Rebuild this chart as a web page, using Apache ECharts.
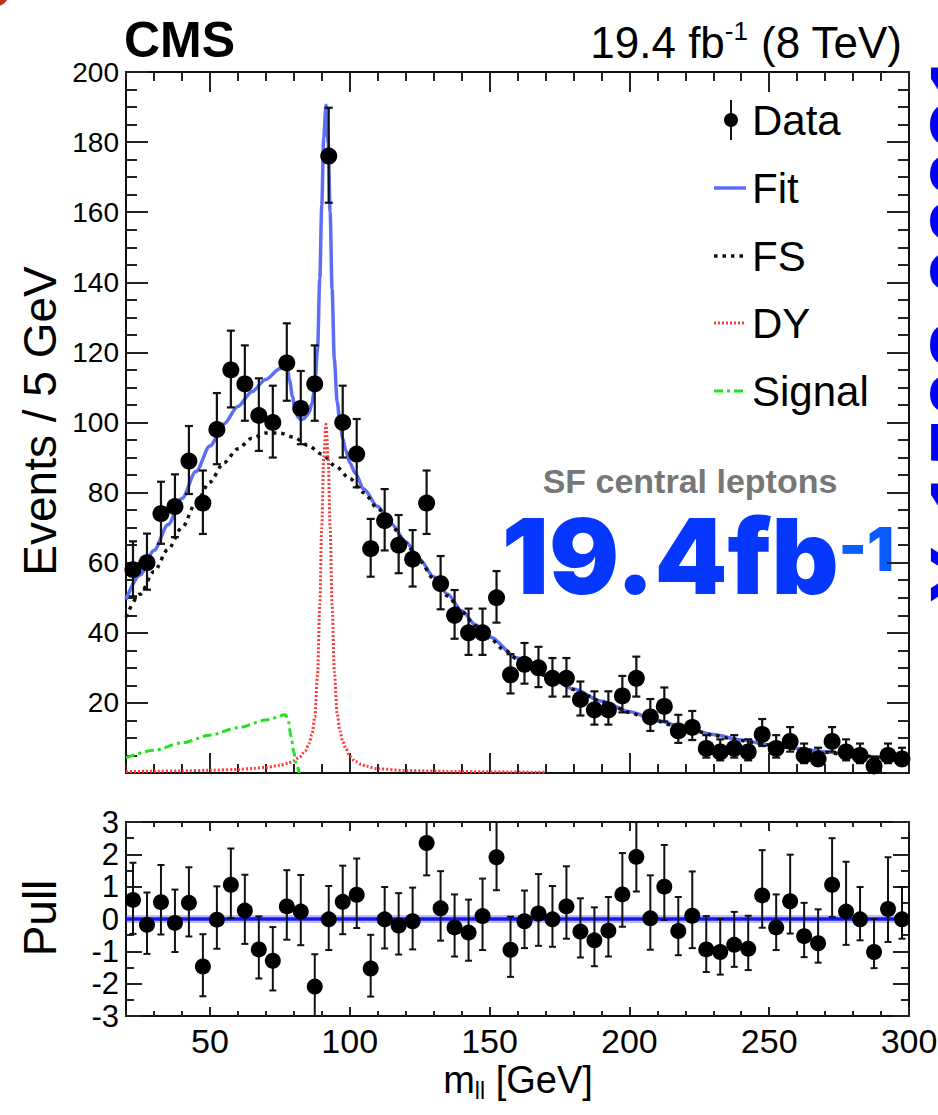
<!DOCTYPE html>
<html>
<head>
<meta charset="utf-8">
<script src="https://cdn.jsdelivr.net/npm/echarts@6/dist/echarts.min.js"></script>
<style>
  html, body { margin: 0; padding: 0; background: #fff; }
  #chart { width: 938px; height: 1115px; }
</style>
</head>
<body>
<div id="chart"></div>
<script>
// Dilepton invariant mass, same-flavour central leptons, 5 GeV bins
const massCenters = [22.5,27.5,32.5,37.5,42.5,47.5,52.5,57.5,62.5,67.5,72.5,77.5,82.5,87.5,92.5,97.5,102.5,107.5,112.5,117.5,122.5,127.5,132.5,137.5,142.5,147.5,152.5,157.5,162.5,167.5,172.5,177.5,182.5,187.5,192.5,197.5,202.5,207.5,212.5,217.5,222.5,227.5,232.5,237.5,242.5,247.5,252.5,257.5,262.5,267.5,272.5,277.5,282.5,287.5,292.5,297.5];
const events = [58,60,74,76,89,77,98,115,111,102,100,117,104,111,176,100,91,64,72,65,61,77,54,45,40,40,50,28,31,30,27,27,21,18,18,22,27,16,19,12,13,7,6,7,6,11,7,9,5,4,9,6,5,2,5,4];
const eventsErrLow = [7.6,7.7,8.6,8.7,9.4,8.8,9.9,10.7,10.5,10.1,10.0,10.8,10.2,10.5,13.3,10.0,9.5,8.0,8.5,8.0,7.8,8.8,7.3,6.7,6.3,6.3,7.1,5.3,5.5,5.5,5.2,5.2,4.6,4.2,4.2,4.7,5.2,4.0,4.3,3.4,3.6,2.6,2.4,2.6,2.4,3.3,2.6,2.9,2.2,1.9,2.9,2.4,2.2,1.3,2.2,1.9];
const eventsErrHigh = [8.1,8.3,9.1,9.2,10.0,9.3,10.4,11.2,11.0,10.6,10.5,11.3,10.7,11.0,13.8,10.5,10.0,8.5,9.0,8.6,8.3,9.3,7.9,7.2,6.9,6.9,7.6,5.9,6.1,6.0,5.8,5.8,5.1,5.3,5.3,5.7,6.2,5.1,5.4,4.6,4.7,3.8,3.6,3.8,3.6,4.4,3.8,4.1,3.4,3.2,4.1,3.6,3.4,2.6,3.4,3.2];

// Pull of data with respect to the fit, per bin
const pullValues = [0.59,-0.18,0.52,-0.12,0.5,-1.47,-0.02,1.06,0.26,-0.94,-1.29,0.39,0.23,-2.09,-0.01,0.53,0.75,-1.53,-0.01,-0.2,-0.07,2.35,0.33,-0.26,-0.42,0.09,1.91,-0.95,-0.07,0.17,-0.01,0.39,-0.39,-0.66,-0.36,0.76,1.92,0.02,1.0,-0.37,0.1,-0.94,-1.02,-0.8,-0.92,0.73,-0.26,0.55,-0.53,-0.75,1.06,0.23,-0.01,-1.02,0.31,-0.01];
const pullErrLow = [1.05,0.9,1.0,0.9,1.04,0.92,0.9,1.03,1.03,0.9,0.92,1.03,1.04,0.92,0.95,1.0,1.03,0.87,0.9,0.9,0.87,1.0,1.0,0.9,0.87,1.05,1.02,0.84,0.83,1.0,0.85,1.0,0.8,0.8,0.8,1.0,1.07,0.97,1.03,0.75,1.0,0.7,0.7,0.68,0.66,1.0,0.7,1.0,0.65,0.6,1.0,1.03,0.65,0.5,1.02,0.6];
const pullErrHigh = [1.15,1.0,1.15,1.03,1.1,1.0,1.03,1.12,1.11,1.02,1.04,1.12,1.13,1.0,1.03,1.12,1.12,1.04,1.0,1.0,1.04,1.0,1.15,1.02,1.02,1.16,1.1,1.02,0.95,1.22,1.03,1.24,1.03,1.02,1.04,1.28,1.1,1.33,1.29,1.05,1.37,1.03,1.02,1.02,1.02,1.4,1.02,1.44,1.03,1.05,1.44,1.54,1.0,1.02,1.6,1.0];

// Fit model and its components, sampled along m_ll
const fitMass = [20,25,30,35,40,45,50,55,60,65,70,75,77.5,78.5,79.5,80.5,81.5,82.5,83.5,84.5,85.5,86.5,87.5,88.5,89.3,90,90.7,91.5,92.3,93,93.7,94.5,95.5,96.5,97.5,98.6,100,102,105,110,115,120,125,130,135,140,145,150,160,170,180,190,200,210,220,230,240,250,260,270,280,290,300];
const fitValue = [49.5,56.5,63.5,70.8,78.3,86,93.3,99.6,104.6,108.8,112.3,115.3,116.5,112,107.5,103.5,101.5,100.8,101,101.8,103,105.5,110,121,141,162,181,190.5,180,160,138,118,106,100,95.5,92,88.6,85.5,81,76,71,66,61,56,51,46.3,42.3,38.8,32.8,28,24,20.5,17.5,15,12.9,11,9.4,8.1,7,6,5.2,4.5,3.9];
const fsMass = [20,25,30,35,40,45,50,55,60,65,70,75,80,85,90,95,100,105,110,115,120,125,130,135,140,145,150,155,160,165,170,175,180,185,190,195,200,205,210,215,220,225,230,235,240,245,250,255,260,265,270,275,280,285,290,295,300];
const fsValue = [44.5,51,57.5,63.8,70,77,83,88.5,92.5,95.5,97,97,95.8,93.5,91,87.5,84,80,75.5,70.5,65.5,60.5,55.5,50.5,46,42,38.5,35.3,32.5,30,27.8,25.8,23.8,22,20.3,18.7,17.3,16,14.8,13.7,12.7,11.7,10.8,10,9.3,8.6,8,7.4,6.9,6.4,5.9,5.5,5.1,4.7,4.4,4.1,3.8];
const dyMass = [20,30,40,50,60,65,70,75,78,80,82,84,85.5,86.5,87.5,88.5,89.3,90,90.7,91.5,92.3,93,93.7,94.5,95.5,96.5,97.5,98.6,100,102,104,106,110,120,140,170];
const dyValue = [0.4,0.5,0.6,0.8,1.0,1.3,1.6,2.2,2.8,3.5,4.5,6.2,8.5,11,16,28,48,70,90,99.5,90,70,48,29,17,12,9,7,4.8,3.3,2.5,1.9,1.2,0.7,0.4,0.2];
const sigMass = [20,30,40,50,60,70,77,78,79,80,81,82];
const sigValue = [4.3,6.5,8.6,10.8,12.9,15.1,16.6,15,10.5,6,2.2,0];

// Axis ticks and labels
const xMajorTicks = [50,100,150,200,250,300];
const xMinorTicks = [20,30,40,50,60,70,80,90,100,110,120,130,140,150,160,170,180,190,200,210,220,230,240,250,260,270,280,290,300];

const FONT = "'Liberation Sans', Arial, Helvetica, sans-serif";
const HEAVY = "Inter, Lato, 'DejaVu Sans', sans-serif";
const INK = '#111';

const styles = {
  fit:    { color: '#5d6ef6', width: 3.5, type: 'solid' },
  fs:     { color: '#111111', width: 3.5, type: [3.5, 5] },
  dy:     { color: '#ff3a3a', width: 3,   type: [2, 2] },
  signal: { color: '#22e022', width: 3,   type: [9, 4, 3, 4] }
};

const pairs = (xs, ys) => xs.map((x, i) => [x, ys[i]]);
const barRows = (xs, ys, lo, hi) => xs.map((x, i) => [x, ys[i] - lo[i], ys[i] + hi[i]]);

function errorBar(capHalf, width) {
  return function (params, api) {
    const x = api.value(0);
    const top = api.coord([x, api.value(2)]);
    const bot = api.coord([x, api.value(1)]);
    const st = { stroke: INK, lineWidth: width };
    return {
      type: 'group',
      children: [
        { type: 'line', shape: { x1: top[0], y1: top[1], x2: bot[0], y2: bot[1] }, style: st },
        { type: 'line', shape: { x1: top[0] - capHalf, y1: top[1], x2: top[0] + capHalf, y2: top[1] }, style: st },
        { type: 'line', shape: { x1: bot[0] - capHalf, y1: bot[1], x2: bot[0] + capHalf, y2: bot[1] }, style: st }
      ]
    };
  };
}

function massAxes(gridIndex, majorLen, minorLen, withLabels) {
  const tickStyle = { color: '#222', width: 2 };
  const make = (position, major) => ({
    type: 'value', gridIndex, position, min: 20, max: 300,
    axisLine: { show: major, onZero: false, lineStyle: { color: INK, width: 2 } },
    axisTick: { show: true, inside: true, length: major ? majorLen : minorLen,
                customValues: major ? xMajorTicks : xMinorTicks, lineStyle: tickStyle },
    axisLabel: { show: major && withLabels && position === 'bottom', customValues: xMajorTicks,
                 showMinLabel: true, showMaxLabel: true,
                 fontFamily: FONT, fontSize: 34, color: '#000', margin: 8 },
    splitLine: { show: false }
  });
  return [make('bottom', true), make('bottom', false), make('top', true), make('top', false)];
}

function valueAxes(gridIndex, cfg) {
  const tickStyle = { color: '#222', width: 2 };
  const make = (position, labels) => ({
    type: 'value', gridIndex, position, min: cfg.min, max: cfg.max, interval: cfg.interval,
    axisLine: { show: true, onZero: false, lineStyle: { color: INK, width: 2 } },
    axisTick: { show: true, inside: true, length: cfg.majorLen, lineStyle: tickStyle },
    minorTick: { show: true, splitNumber: cfg.minorSplit, length: cfg.minorLen, lineStyle: tickStyle },
    axisLabel: { show: labels, fontFamily: FONT, fontSize: cfg.fontSize, lineHeight: cfg.fontSize,
                 color: '#000', margin: 7, showMinLabel: true, showMaxLabel: true,
                 hideOverlap: false, formatter: cfg.formatter },
    splitLine: { show: false }
  });
  return [make('left', true), make('right', false)];
}

const lineSeries = (name, xs, ys, st, z) => ({
  name, type: 'line', xAxisIndex: 0, yAxisIndex: 0,
  data: pairs(xs, ys), showSymbol: false, smooth: 0.3, smoothMonotone: 'x',
  clip: true, silent: true, z,
  lineStyle: { color: st.color, width: st.width, type: st.type, cap: 'butt', opacity: 1 }
});

// Legend drawn at the upper right of the main pad
const legendRows = [
  { name: 'Data', kind: 'data', y: 120 },
  { name: 'Fit', kind: 'fit', y: 188 },
  { name: 'FS', kind: 'fs', y: 256 },
  { name: 'DY', kind: 'dy', y: 323 },
  { name: 'Signal', kind: 'signal', y: 391 }
];
const legendGraphics = [];
legendRows.forEach(r => {
  if (r.kind === 'data') {
    legendGraphics.push({ type: 'line', shape: { x1: 731, y1: r.y - 20, x2: 731, y2: r.y + 20 },
                          style: { stroke: INK, lineWidth: 2 } });
    legendGraphics.push({ type: 'circle', shape: { cx: 731, cy: r.y, r: 7 }, style: { fill: '#000' } });
  } else {
    const st = styles[r.kind];
    legendGraphics.push({ type: 'line', shape: { x1: 714, y1: r.y, x2: 746, y2: r.y },
                          style: { stroke: st.color, lineWidth: st.width,
                                   lineDash: st.type === 'solid' ? null : st.type } });
  }
  legendGraphics.push({ type: 'text', x: 752, y: r.y,
    style: { text: r.name, fontFamily: FONT, fontSize: 42, fill: '#000', align: 'left', verticalAlign: 'middle' } });
});

const chart = echarts.init(document.getElementById('chart'), null, { renderer: 'svg', width: 938, height: 1115 });

chart.setOption({
  animation: false,
  backgroundColor: '#fff',
  grid: [
    { left: 126, top: 72, width: 783, height: 701, containLabel: false, outerBoundsMode: 'none' },
    { left: 126, top: 822, width: 783, height: 194, containLabel: false, outerBoundsMode: 'none' }
  ],
  xAxis: [].concat(massAxes(0, 20, 9, false), massAxes(1, 9, 5, true)),
  yAxis: [].concat(
    valueAxes(0, { min: 0, max: 200, interval: 20, majorLen: 22, minorLen: 11, minorSplit: 4, fontSize: 28,
                   formatter: v => (v === 0 ? '' : String(v)) }),
    valueAxes(1, { min: -3, max: 3, interval: 1, majorLen: 16, minorLen: 8, minorSplit: 2, fontSize: 31,
                   formatter: v => String(v) })
  ),
  series: [
    lineSeries('Fit', fitMass, fitValue, styles.fit, 2),
    lineSeries('FS', fsMass, fsValue, styles.fs, 3),
    lineSeries('DY', dyMass, dyValue, styles.dy, 3),
    lineSeries('Signal', sigMass, sigValue, styles.signal, 3),
    {
      name: 'Data errors', type: 'custom', xAxisIndex: 0, yAxisIndex: 0, clip: true, z: 4, silent: true,
      encode: { x: 0, y: [1, 2] },
      data: barRows(massCenters, events, eventsErrLow, eventsErrHigh),
      renderItem: errorBar(4, 2.2)
    },
    {
      name: 'Data', type: 'scatter', xAxisIndex: 0, yAxisIndex: 0, z: 5, silent: true,
      symbol: 'circle', symbolSize: 17, itemStyle: { color: '#000', opacity: 1 },
      data: pairs(massCenters, events)
    },
    {
      name: 'Pull zero halo', type: 'line', xAxisIndex: 4, yAxisIndex: 2, showSymbol: false, silent: true, z: 2,
      data: [[20, 0], [300, 0]], lineStyle: { color: 'rgba(70,70,255,0.35)', width: 8 }
    },
    {
      name: 'Pull zero', type: 'line', xAxisIndex: 4, yAxisIndex: 2, showSymbol: false, silent: true, z: 3,
      data: [[20, 0], [300, 0]], lineStyle: { color: '#1414ff', width: 3.5 }
    },
    {
      name: 'Pull errors', type: 'custom', xAxisIndex: 4, yAxisIndex: 2, clip: true, z: 4, silent: true,
      encode: { x: 0, y: [1, 2] },
      data: barRows(massCenters, pullValues, pullErrLow, pullErrHigh),
      renderItem: errorBar(3.5, 2)
    },
    {
      name: 'Pull', type: 'scatter', xAxisIndex: 4, yAxisIndex: 2, z: 5, silent: true,
      symbol: 'circle', symbolSize: 16, itemStyle: { color: '#000', opacity: 1 },
      data: pairs(massCenters, pullValues)
    }
  ],
  graphic: [
    { type: 'circle', shape: { cx: -6, cy: -9, r: 16 }, style: { fill: '#c0321a' } },
    { type: 'text', x: 124, y: 40,
      style: { text: 'CMS', fontFamily: FONT, fontWeight: 'bold', fontSize: 50, fill: '#000',
               align: 'left', verticalAlign: 'middle' } },
    { type: 'text', x: 902, y: 42,
      style: { text: '{a|19.4 fb}{s|-1}{a| (8 TeV)}', align: 'right', verticalAlign: 'middle',
               rich: { a: { fontFamily: FONT, fontSize: 44, lineHeight: 48, fill: '#000' },
                       s: { fontFamily: FONT, fontSize: 26, lineHeight: 26, verticalAlign: 'top', fill: '#000' } } } },
    { type: 'text', x: 40, y: 421, rotation: Math.PI / 2,
      style: { text: 'Events / 5 GeV', fontFamily: FONT, fontSize: 46, fill: '#000', align: 'center', verticalAlign: 'middle' } },
    { type: 'text', x: 40, y: 918, rotation: Math.PI / 2,
      style: { text: 'Pull', fontFamily: FONT, fontSize: 46, fill: '#000', align: 'center', verticalAlign: 'middle' } },
    { type: 'text', x: 518, y: 1080,
      style: { text: '{m|m}{b|ll}{m| [GeV]}', align: 'center', verticalAlign: 'middle',
               rich: { m: { fontFamily: FONT, fontSize: 38, lineHeight: 44, fill: '#000' },
                       b: { fontFamily: FONT, fontSize: 23, lineHeight: 23, verticalAlign: 'bottom', fill: '#000' } } } },
    { type: 'text', x: 690, y: 481,
      style: { text: 'SF central leptons', fontFamily: FONT, fontWeight: 'bold', fontSize: 34, lineHeight: 30,
               fill: '#777', align: 'center', verticalAlign: 'middle' } },
    { type: 'text', x: 698, y: 556,
      style: { text: '{n|19.4fb}{s|-1}', align: 'center', verticalAlign: 'middle',
               rich: { n: { fontFamily: HEAVY, fontWeight: 900, fontSize: 104, lineHeight: 74, fill: '#0637ff' },
                       s: { fontFamily: HEAVY, fontWeight: 900, fontSize: 60, lineHeight: 40, verticalAlign: 'top', fill: '#0a5cff' } } } },
    { type: 'text', x: 916, y: 604, rotation: Math.PI / 2,
      style: { text: 'X:1502.06031', fontFamily: FONT, fontWeight: 'bold', fontSize: 88, fill: '#0000f5',
               align: 'left', verticalAlign: 'top' } }
  ].concat(legendGraphics)
});
</script>
</body>
</html>
